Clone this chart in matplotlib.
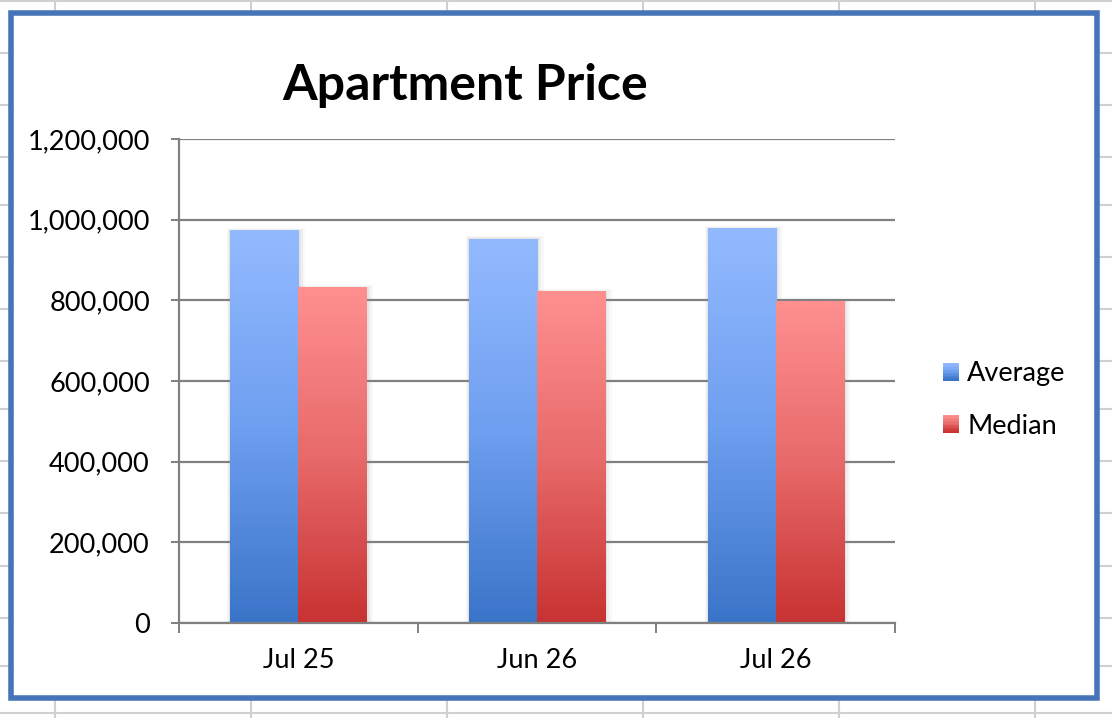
import numpy as np
import matplotlib
matplotlib.use('Agg')
import matplotlib.pyplot as plt
from matplotlib.patches import Rectangle
from matplotlib.colors import LinearSegmentedColormap
from matplotlib.legend_handler import HandlerBase
from matplotlib.ticker import FuncFormatter

plt.rcParams['font.family'] = ['Lato', 'DejaVu Sans']

# data
months = ['Jul 25', 'Jun 26', 'Jul 26']
average = [972000, 952000, 977000]
median = [831000, 821000, 796000]
series_names = ['Average', 'Median']

# spreadsheet cell lines behind the chart (pixels)
sheet_cols = [55, 251, 447, 643, 839, 1035]
sheet_rows = [1, 53, 105, 157, 205, 257, 309, 361, 409, 461, 513, 566, 618, 666, 713]

W, H = 1112, 718
fig = plt.figure(figsize=(W / 100, H / 100), dpi=100)

# background: sheet grid + chart frame
bg = fig.add_axes([0, 0, 1, 1])
bg.set_xlim(0, W)
bg.set_ylim(H, 0)
bg.axis('off')
for x in sheet_cols:
    bg.axvline(x, color='#d0d0d0', lw=1.5, zorder=1)
for y in sheet_rows:
    bg.axhline(y, color='#d0d0d0', lw=1.5, zorder=1)
bg.add_patch(Rectangle((10.5, 12.8), 1086.5, 684.7, facecolor='white',
                       edgecolor='#4674b8', lw=4, joinstyle='miter', zorder=3))

blue = LinearSegmentedColormap.from_list('b', ['#93baff', '#6e9ff0', '#3a74c8'])
red = LinearSegmentedColormap.from_list('r', ['#ff9090', '#e86a6a', '#c83232'])

# plot area
ax = fig.add_axes([179 / W, (H - 623) / H, (895 - 179) / W, (623 - 139) / H])
ax.patch.set_alpha(0)

bw = 0.285
px_x = 1.0 / 239
px_y = 1.2e6 / 484
grad = np.linspace(0, 1, 256).reshape(-1, 1)
for i in range(len(months)):
    for vals, cmap, off in [(average, blue, -bw / 2), (median, red, bw / 2)]:
        x0 = i + off - bw / 2
        v = vals[i]
        # soft shadow
        for k, a in [(6, 0.05), (4, 0.07), (2, 0.10)]:
            ax.add_patch(Rectangle((x0 - k * 0.5 * px_x, 0),
                                   bw + k * 1.6 * px_x, v + k * 0.5 * px_y,
                                   facecolor='#808080', edgecolor='none',
                                   alpha=a, zorder=2))
        ax.imshow(grad, extent=[x0, x0 + bw, 0, v], cmap=cmap, aspect='auto',
                  zorder=3, interpolation='bilinear')

ax.set_xlim(-0.5, 2.5)
ax.set_ylim(0, 1.2e6)
ax.set_yticks(np.arange(0, 1.2e6 + 1, 2e5))
ax.yaxis.set_major_formatter(FuncFormatter(lambda v, p: '{:,.0f}'.format(v)))
ax.yaxis.grid(True, color='#808080', lw=1.6)
ax.set_axisbelow(True)

ax.set_xticks([-0.5, 0.5, 1.5, 2.5])
ax.set_xticklabels([])
ax.set_xticks([0, 1, 2], minor=True)
ax.set_xticklabels(months, minor=True)

for s in ['top', 'right']:
    ax.spines[s].set_visible(False)
for s in ['left', 'bottom']:
    ax.spines[s].set_color('#808080')
    ax.spines[s].set_linewidth(1.6)
    ax.spines[s].set_zorder(4)

ax.tick_params(axis='y', length=6, width=1.4, color='#808080', pad=15,
               labelsize=19.5, labelcolor='black')
ax.tick_params(axis='x', which='major', length=7, width=1.4, color='#808080')
ax.tick_params(axis='x', which='minor', length=0, pad=18, labelsize=19.5)

fig.text(465.5 / W, 1 - 100 / H, 'Apartment Price', ha='center', va='baseline',
         fontsize=36, fontweight='bold')


class GradHandler(HandlerBase):
    def __init__(self, cmap):
        super().__init__()
        self.cmap = cmap

    def create_artists(self, legend, orig_handle, xdescent, ydescent, width,
                       height, fontsize, trans):
        n = 12
        arts = []
        for j in range(n):
            y0 = -ydescent + height * (n - 1 - j) / n
            arts.append(Rectangle((-xdescent, y0), width, height / n + 0.3,
                                  facecolor=self.cmap(j / (n - 1)),
                                  edgecolor='none', transform=trans))
        return arts


h_avg = Rectangle((0, 0), 1, 1)
h_med = Rectangle((0, 0), 1, 1)
fig.legend([h_avg, h_med], series_names, loc='center left',
           bbox_to_anchor=(943 / W, 1 - 400 / H), frameon=False,
           borderpad=0, borderaxespad=0, handlelength=0.6, handleheight=0.6,
           handletextpad=0.3, labelspacing=1.0, fontsize=19.5,
           handler_map={h_avg: GradHandler(blue), h_med: GradHandler(red)})

fig.savefig('out.png', dpi=100)
